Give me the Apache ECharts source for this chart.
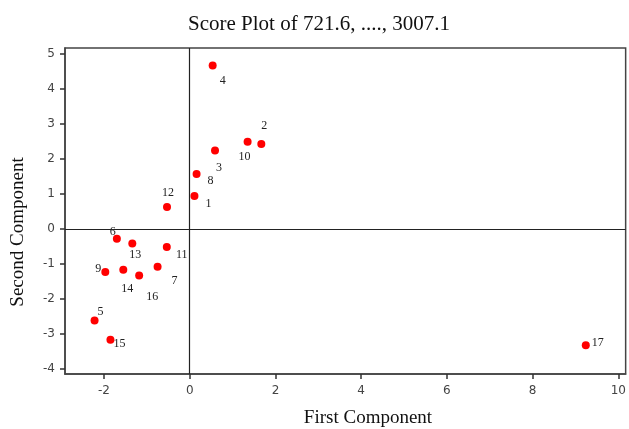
<!DOCTYPE html>
<html>
<head>
<meta charset="utf-8">
<script src="https://cdn.jsdelivr.net/npm/echarts@6/dist/echarts.min.js"></script>
<style>
  html, body { margin: 0; padding: 0; background: #fff; }
  #myCanvas { width: 629px; height: 429px; }
</style>
</head>
<body>
<div id="myCanvas"></div>
<script>
// observation numbers and their scores
var pointIds = ['1','2','3','4','5','6','7','8','9','10','11','12','13','14','15','16','17'];
var firstComp = [0.11, 1.67, 0.59, 0.535, -2.22, -1.70, -0.75, 0.16, -1.97, 1.35, -0.535, -0.53, -1.34, -1.55, -1.85, -1.18, 9.24];
var secondComp = [0.94, 2.43, 2.24, 4.67, -2.61, -0.28, -1.08, 1.57, -1.23, 2.49, -0.51, 0.63, -0.41, -1.16, -3.16, -1.33, -3.32];
var xTicks = [-2, 0, 2, 4, 6, 8, 10];
var yTicks = [-4, -3, -2, -1, 0, 1, 2, 3, 4, 5];

// where each point's number sits relative to the dot (px)
var labelOffsets = [[14,8],[3,-18],[4,17],[10,15],[6,-9],[-4,-7],[17,14],[14,7],[-7,-3],
                    [-3,15],[15,8],[1,-14],[3,11],[4,19],[9,4],[13,21],[12,-2]];

var points = pointIds.map(function(id, i){
    return {
        name: id,
        value: [firstComp[i], secondComp[i]],
        label: { offset: labelOffsets[i] }
    };
});

var tickFont = { fontFamily: 'DejaVu Sans', fontSize: 12, color: '#444' };
var serif = 'Liberation Serif';
var frameLine = { color: '#444', width: 1.5 };
var tickLine = { color: '#333', width: 1.5 };

var myChart = echarts.init(document.getElementById('myCanvas'));
var option = {
    animation: false,
    title: {
        text: 'Score Plot of 721.6, ...., 3007.1',
        left: 183,
        top: 9,
        textStyle: { fontFamily: serif, fontSize: 21, fontWeight: 'normal', color: '#111' }
    },
    grid: {
        left: 65,
        right: 2,
        top: 48,
        bottom: 55,
        show: true,
        borderColor: '#444',
        borderWidth: 1.5
    },
    xAxis: {
        type: 'value',
        min: -2.91,
        max: 10.17,
        splitLine: { show: false },
        axisLine: { show: true, onZero: false, lineStyle: frameLine },
        axisTick: { show: true, inside: false, length: 5, lineStyle: tickLine, customValues: xTicks },
        axisLabel: Object.assign({ margin: 11, customValues: xTicks }, tickFont)
    },
    yAxis: {
        type: 'value',
        min: -4.14,
        max: 5.17,
        splitLine: { show: false },
        axisLine: { show: true, onZero: false, lineStyle: frameLine },
        axisTick: { show: true, inside: false, length: 5, lineStyle: tickLine, customValues: yTicks },
        axisLabel: Object.assign({ margin: 10, customValues: yTicks }, tickFont)
    },
    graphic: [
        {
            type: 'text',
            x: 368, y: 418,
            style: { text: 'First Component', font: '19px "Liberation Serif"', fill: '#111', textAlign: 'center', textVerticalAlign: 'middle' }
        },
        {
            type: 'text',
            x: 18, y: 232,
            rotation: Math.PI / 2,
            style: { text: 'Second Component', font: '19px "Liberation Serif"', fill: '#111', textAlign: 'center', textVerticalAlign: 'middle' }
        }
    ],
    series: [
        {
            type: 'scatter',
            symbol: 'circle',
            symbolSize: 8,
            itemStyle: { color: '#ff0000', opacity: 1 },
            label: {
                show: true,
                position: 'inside',
                formatter: '{b}',
                fontFamily: serif,
                fontSize: 12,
                color: '#222'
            },
            markLine: {
                silent: true,
                symbol: 'none',
                label: { show: false },
                lineStyle: { color: '#222', width: 1.2, type: 'solid' },
                data: [{ xAxis: 0 }, { yAxis: 0 }]
            },
            data: points
        }
    ]
};
myChart.setOption(option);
</script>
</body>
</html>
